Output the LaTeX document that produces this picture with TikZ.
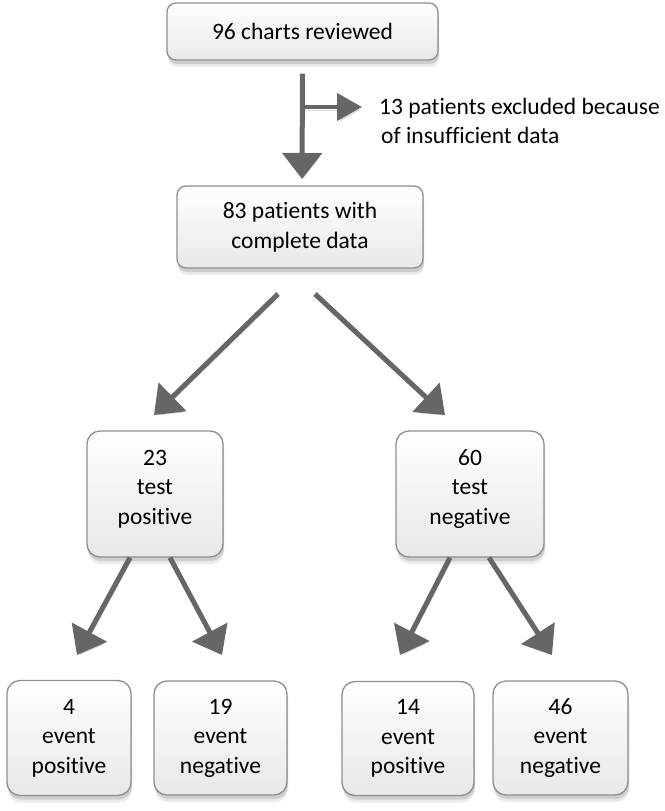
\documentclass[tikz,border=0pt]{standalone}
\usepackage{fontspec}
\setmainfont{Carlito}[Ligatures=NoCommon]
\usetikzlibrary{arrows.meta,shadows,calc}
\definecolor{arr}{HTML}{666666}
\definecolor{bord}{HTML}{8E8E8E}
\definecolor{boxbot}{HTML}{E8E8E8}
\begin{document}
\begin{tikzpicture}[x=1pt,y=-1pt,
  txt/.style={font=\fontsize{23.5}{29.5}\selectfont},
  box/.style={txt, draw=bord, line width=1.3pt, rounded corners=9pt,
    top color=white, bottom color=boxbot, align=center, inner sep=0pt,
    drop shadow={shadow xshift=1pt, shadow yshift=-7pt, opacity=0.08, fill=black},
    drop shadow={shadow xshift=1pt, shadow yshift=-4pt, opacity=0.12, fill=black}},
  tall/.style={box, rounded corners=13pt},
  ashadow/.style={preaction={draw=black, opacity=0.12, transform canvas={shift={(1.5pt,-3pt)}}}},
  conn/.style={ashadow, draw=arr, line width=5pt, -{Triangle[length=26pt,width=39pt]}},
  side/.style={ashadow, draw=arr, line width=4pt, -{Triangle[length=25pt,width=27pt]}}]
\useasboundingbox (0,0) rectangle (664,811);

% boxes
\node[box, minimum width=271pt, minimum height=57pt] (top) at (302.5,31.5) {96 charts reviewed};
\node[box, minimum width=246pt, minimum height=82pt] (mid) at (300,227) {83 patients with\\complete data};
\node[tall, minimum width=136pt, minimum height=126pt,
  label={[txt, align=center, yshift=5pt]center:23\\test\\positive}] (L) at (155,494) {};
\node[tall, minimum width=148pt, minimum height=126pt,
  label={[txt, align=center, yshift=5pt]center:60\\test\\negative}] (R) at (470,494) {};
\node[tall, minimum width=124pt, minimum height=115pt] (LL) at (69,738) {4\\event\\positive};
\node[tall, minimum width=133pt, minimum height=114pt] (LR) at (220.5,738) {19\\event\\negative};
\node[tall, minimum width=132pt, minimum height=114pt] (RL) at (408,738.5) {14\\event\\positive};
\node[tall, minimum width=135pt, minimum height=114pt] (RR) at (560.5,738) {46\\event\\negative};

\node[txt, anchor=west, align=left, inner sep=0pt] (note) at (379,121) {13 patients excluded because\\\hspace*{2pt}of insufficient data};

% connector end points
\coordinate (v0) at ($(top.south)+(0,13)$);
\coordinate (v1) at (302,179);
\coordinate (s0) at (302,107);
\coordinate (s1) at (362,107);
\coordinate (dl0) at (278,294);
\coordinate (dl1) at (154,415);
\coordinate (dr0) at (315,294);
\coordinate (dr1) at (445,415);
\coordinate (a0) at ($(L.south)+(-25,0)$);
\coordinate (a1) at (77,655);
\coordinate (b0) at ($(L.south)+(15,0)$);
\coordinate (b1) at (222,655);
\coordinate (c0) at ($(R.south)+(-20,0)$);
\coordinate (c1) at (400,655);
\coordinate (d0) at ($(R.south)+(19,0)$);
\coordinate (d1) at (552,655);

% connectors
\draw[conn] (v0) -- (v1);
\draw[side] (s0) -- (s1);
\draw[conn] (dl0) -- (dl1);
\draw[conn] (dr0) -- (dr1);
\draw[conn] (a0) -- (a1);
\draw[conn] (b0) -- (b1);
\draw[conn] (c0) -- (c1);
\draw[conn] (d0) -- (d1);
\end{tikzpicture}
\end{document}
